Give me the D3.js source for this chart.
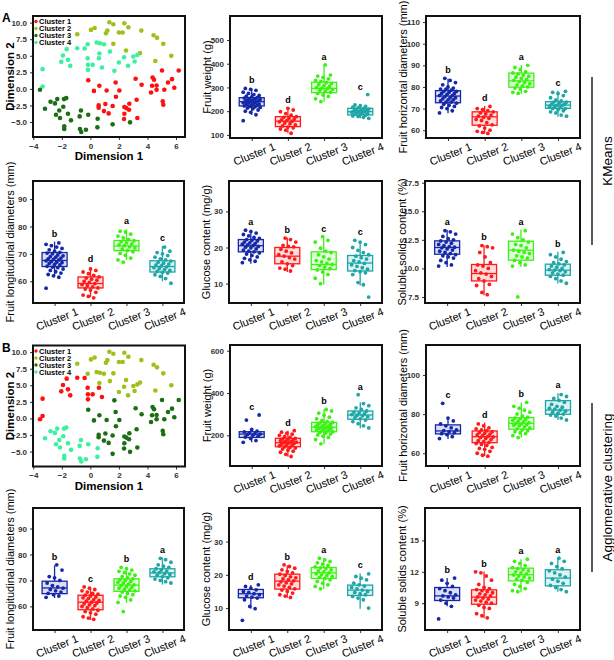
<!DOCTYPE html>
<html>
<head>
<meta charset="utf-8">
<script src="https://cdn.jsdelivr.net/npm/d3@7"></script>
<style>
  body { margin: 0; background: #fff; }
</style>
</head>
<body>
<div id="fig"></div>
<script>
var width = 614,
    height = 660;

var clusterNames = ["Cluster 1", "Cluster 2", "Cluster 3", "Cluster 4"];
var scatterColors = ["#ff1010", "#9cc21a", "#1c6e14", "#3cf0a0"];
var boxColors = ["#1428a8", "#ff1a1a", "#3cf214", "#1fa6a6"];

// 2-D embedding of the fruit samples: [dim1, dim2, kmeans cluster, agglomerative cluster]
var embedding = [
  [-0.15, 1.3, 1, 3], [0.25, -0.3, 1, 3], [0.63, 0.47, 1, 3], [1.14, -0.24, 1, 3], [1.77, 0.97, 1, 3],
  [2.03, -0.24, 1, 3], [1.79, -1.19, 1, 3], [0.58, -2.49, 1, 3], [0.58, -2.85, 1, 3], [1.05, -2.29, 1, 3],
  [1.56, -2.59, 1, 3], [0.95, -3.35, 1, 3], [1.28, -3.7, 1, 3], [2.38, -2.74, 1, 3], [2.38, -3.75, 1, 3],
  [2.73, -2.24, 1, 3], [2.71, -3.15, 1, 3], [2.52, -2.9, 1, 3], [2.36, -4.55, 1, 3], [3.29, -4.4, 1, 3],
  [3.24, -1.64, 1, 3], [3.17, 1.52, 1, 3], [3.59, 0.62, 1, 3], [4.25, -0.54, 1, 3], [4.32, 0.47, 1, 3],
  [4.36, 1.72, 1, 3], [4.46, 1.37, 1, 3], [4.64, 0.52, 1, 3], [4.64, -0.14, 1, 3], [5.02, 2.77, 1, 3],
  [5.18, -0.14, 1, 3], [5.07, -1.89, 1, 3], [5.11, -2.39, 1, 3], [5.44, 0.97, 1, 3], [5.72, 1.47, 1, 3],
  [5.88, 0.17, 1, 3], [6.19, 2.77, 1, 3],
  [-0.92, 8.24, 2, 2], [0.04, 8.9, 2, 2], [0.3, 9.2, 2, 2], [1.33, 10.05, 2, 2], [1.61, 9.75, 2, 2],
  [1.09, 8.4, 2, 2], [1.19, 8.8, 2, 2], [2.0, 8.5, 2, 2], [2.26, 8.5, 2, 2], [2.38, 9.9, 2, 2],
  [2.66, 9.3, 2, 2], [3.57, 8.8, 2, 2], [4.43, 8.1, 2, 2], [4.67, 7.7, 2, 2], [5.11, 6.8, 2, 2],
  [1.61, 6.8, 2, 2], [2.5, 5.8, 2, 2], [3.48, 5.4, 2, 2], [5.67, 5.0, 2, 2], [4.55, 4.2, 2, 2],
  [-0.19, 6.74, 4, 2], [0.44, 6.99, 4, 2], [0.67, 6.89, 4, 2], [0.95, 6.74, 4, 2], [0.63, 5.33, 4, 2],
  [1.37, 5.63, 4, 2], [2.0, 3.98, 4, 2], [2.36, 4.78, 4, 2], [2.64, 3.48, 4, 2], [3.01, 4.88, 4, 2],
  [3.1, 4.13, 4, 2], [3.29, 5.13, 4, 2],
  [-3.35, 2.98, 4, 1], [-3.35, 0.37, 4, 1], [-1.92, 5.03, 4, 1], [-2.04, 4.08, 4, 1], [-1.66, 6.0, 4, 1],
  [-1.57, 4.38, 4, 1], [-1.41, 3.48, 4, 1], [-0.92, 6.14, 4, 1], [-0.4, 6.09, 4, 1], [-0.19, 4.63, 4, 1],
  [-0.17, 3.63, 4, 1], [-0.17, 2.87, 4, 1], [0.16, 3.63, 4, 1], [0.6, 4.63, 4, 1], [0.81, 3.23, 4, 1],
  [1.68, 2.72, 4, 3],
  [-3.53, -0.14, 3, 1],
  [-3.18, -3.0, 3, 4], [-2.79, -1.94, 3, 4], [-2.48, -2.19, 3, 4], [-2.32, -1.54, 3, 4], [-2.41, -3.9, 3, 4],
  [-2.18, -3.25, 3, 4], [-2.13, -4.4, 3, 4], [-1.9, -2.69, 3, 4], [-1.85, -1.54, 3, 4], [-1.69, -1.39, 3, 4],
  [-1.57, -3.75, 3, 4], [-1.83, -5.65, 3, 4], [-1.83, -6.06, 3, 4], [-1.36, -4.75, 3, 4], [-0.75, -4.15, 3, 4],
  [-0.66, -3.25, 3, 4], [-0.73, -6.06, 3, 4], [-0.64, -6.51, 3, 4], [-0.31, -6.16, 3, 4], [-0.15, -3.9, 3, 4],
  [0.51, -4.5, 3, 4], [0.49, -5.8, 3, 4],
  [1.56, -5.35, 3, 3], [2.78, -5.05, 3, 3]
];
var dimTicksX = [-4, -2, 0, 2, 4, 6];
var dimTicksY = [-5, -2.5, 0, 2.5, 5, 7.5, 10];

// ---- KMeans traits ----
var weightK = [
  [160, 185, 195, 200, 205, 210, 213, 216, 218, 220, 222, 224, 226, 228, 230, 232, 234, 236, 238, 240, 241, 243, 245, 247, 249, 251, 253, 255, 257, 260, 263, 266, 270, 275, 280, 288, 292, 296],
  [107, 120, 125, 130, 133, 138, 142, 147, 150, 155, 158, 160, 163, 167, 170, 174, 177, 183, 190, 198, 205, 212],
  [240, 252, 262, 268, 275, 280, 284, 288, 292, 295, 297, 300, 304, 308, 312, 316, 320, 325, 330, 336, 342, 348, 352, 395],
  [170, 174, 178, 180, 183, 186, 188, 190, 192, 194, 196, 198, 199, 201, 203, 205, 207, 209, 211, 214, 217, 220, 223, 226, 270]
];
var weightKBox = [[184, 222, 240, 257, 296], [107, 135, 158, 177, 212], [240, 278, 296, 322, 395], [170, 184, 198, 212, 226]];
var weightKLetters = ["b", "d", "a", "c"];
var weightKTicks = [100, 200, 300, 400, 500];

var hdiamK = [
  [68, 69, 70, 70.5, 71, 71.5, 72, 72.5, 73, 73, 73.5, 74, 74, 74.5, 75, 75, 75.5, 76, 76, 76.5, 77, 77, 77.5, 78, 78, 78.5, 79, 79, 79.5, 80, 81, 82, 83, 84],
  [58.5, 59, 59.5, 60, 61, 62, 62.5, 63.5, 64.5, 65, 65.5, 66, 66.5, 67, 67.5, 68, 68.5, 69, 69.5, 70, 71],
  [77, 77.5, 78, 79, 79.5, 80, 80.5, 81, 81.5, 82, 82.5, 83, 83.5, 84, 84.5, 85, 85.5, 86, 86.5, 87, 88, 89, 90],
  [66.5, 67, 68, 68.5, 69, 69.5, 70, 70, 70.5, 71, 71, 71.5, 71.5, 72, 72, 72.5, 73, 73, 73.5, 74, 75, 76, 77, 77.5, 78]
];
var hdiamKBox = [[67.8, 72.7, 75.8, 78.3, 83.8], [58.4, 62.3, 66.2, 68.5, 71.2], [76.8, 79.9, 82.8, 86.4, 90.1], [66.2, 70.1, 71.6, 73.2, 78.2]];
var hdiamKLetters = ["b", "d", "a", "c"];
var hdiamKTicks = [60, 70, 80, 90, 100, 110];

var ldiamK = [
  [57.5, 61.5, 62, 62.5, 63, 63.5, 64, 64.5, 65, 65.2, 65.5, 66, 66.2, 66.5, 66.8, 67, 67.2, 67.5, 67.8, 68, 68.2, 68.5, 68.8, 69, 69.3, 69.6, 70, 70.3, 70.6, 71, 71.5, 72, 72.5, 73, 73.5, 74],
  [54, 54.5, 55, 56, 56.8, 57.2, 57.6, 58, 58.4, 58.8, 59.2, 59.6, 60, 60.4, 60.8, 61.2, 61.6, 62.2, 62.8, 63.4, 64, 64.5],
  [67, 67.8, 68.5, 69.5, 70.2, 70.8, 71.3, 71.8, 72.2, 72.6, 73, 73.3, 73.7, 74, 74.4, 74.8, 75.2, 75.8, 76.5, 77.2, 78, 78.3],
  [59.3, 61, 61.8, 62.4, 63, 63.3, 63.6, 64, 64.3, 64.6, 65, 65.3, 65.6, 66, 66.3, 66.6, 67, 67.4, 67.8, 68.2, 68.8, 69.4, 70, 70.5, 71, 72.5]
];
var ldiamKBox = [[61.8, 65.4, 67.6, 70.5, 74.5], [54.3, 57.6, 59.2, 61.6, 65.2], [67.9, 71.2, 72.9, 74.9, 79], [60, 63.4, 65.4, 67.5, 72.9]];
var ldiamKLetters = ["b", "d", "a", "c"];
var ldiamKTicks = [60, 70, 80, 90];

var glucoseK = [
  [15.8, 16.2, 16.6, 17, 17.4, 17.8, 18.2, 18.5, 18.8, 19, 19.3, 19.6, 19.9, 20.1, 20.3, 20.5, 20.7, 20.9, 21.1, 21.3, 21.5, 21.8, 22, 22.2, 22.5, 22.8, 23.2, 23.6, 24, 24.4, 24.8],
  [13.5, 14, 14.3, 15, 15.5, 16, 16.8, 17.2, 17.6, 18, 18.5, 19, 19.5, 20.2, 20.3, 20.6, 21.5, 22.2, 22.6],
  [10, 11.5, 12.5, 13.2, 13.8, 14.2, 14.6, 15, 15.3, 15.6, 16, 16.4, 16.8, 17.4, 18, 18.6, 19, 19.8, 21.5, 22, 23],
  [6.3, 9.7, 10.3, 12.5, 13, 13.3, 13.6, 14, 14.4, 14.8, 15.2, 15.6, 16, 16.4, 16.8, 17.2, 17.6, 18, 18.6, 19.2, 20, 20.8, 21.5, 22]
];
var glucoseKBox = [[15.5, 18.8, 20.5, 22.2, 24.9], [13.2, 15.5, 17.6, 20, 22.7], [9.8, 13.9, 15.3, 18.8, 22.9], [9.5, 13.5, 15.7, 17.8, 21.8]];
var glucoseKLetters = ["a", "b", "c", "c"];
var glucoseKTicks = [10, 20, 30];

var solidsK = [
  [10.2, 10.3, 10.5, 10.7, 10.9, 11, 11.1, 11.2, 11.3, 11.4, 11.5, 11.6, 11.7, 11.8, 11.85, 11.9, 12, 12.1, 12.2, 12.3, 12.4, 12.5, 12.6, 12.8, 13, 13.2, 13.3],
  [7.7, 7.9, 8.5, 8.6, 8.9, 9.1, 9.3, 9.5, 9.6, 9.8, 10, 10.2, 10.3, 10.5, 11, 11.4, 11.8, 11.9, 12],
  [7.5, 10.2, 10.3, 10.5, 10.7, 10.9, 11, 11.1, 11.3, 11.4, 11.5, 11.6, 11.8, 12, 12.1, 12.3, 12.5, 12.7, 13, 13.3],
  [8.7, 8.9, 9.1, 9.3, 9.4, 9.5, 9.6, 9.7, 9.8, 9.85, 9.9, 10, 10.1, 10.2, 10.3, 10.4, 10.5, 10.6, 10.8, 11, 11.2, 11.4]
];
var solidsKBox = [[10.13, 11.24, 11.83, 12.41, 13.35], [7.65, 8.9, 9.55, 10.34, 12.03], [10.13, 10.72, 11.59, 12.38, 13.4], [8.67, 9.4, 9.84, 10.37, 11.45]];
var solidsKLetters = ["a", "b", "a", "b"];
var solidsKTicks = [7.5, 10, 12.5, 15, 17.5];

// ---- Agglomerative traits ----
var weightA = [
  [167, 175, 185, 192, 196, 200, 204, 206, 208, 212, 216, 220, 228, 272, 296],
  [100, 110, 120, 125, 130, 135, 140, 143, 146, 150, 153, 156, 159, 162, 164, 166, 168, 170, 172, 175, 178, 180, 183, 186, 190, 195, 200, 205, 210, 215, 222],
  [160, 180, 190, 196, 202, 206, 210, 214, 217, 220, 222, 225, 228, 230, 233, 235, 237, 239, 241, 243, 246, 249, 252, 255, 258, 261, 265, 270, 278, 286, 295, 305, 315, 322],
  [235, 245, 255, 265, 272, 278, 284, 288, 292, 295, 298, 302, 306, 310, 315, 322, 330, 340, 350, 392]
];
var weightABox = [[167, 190, 206, 217, 230], [99, 146, 165, 186, 222], [159, 217, 238, 261, 324], [233, 276, 296, 315, 356]];
var weightALetters = ["c", "d", "b", "a"];
var weightATicks = [200, 400, 600];

var hdiamA = [
  [67.5, 68.5, 69.5, 70, 70.5, 71, 71.5, 72, 73, 74, 75, 76.5, 78, 85.5],
  [58.5, 59, 60, 61, 62, 62.5, 63, 64, 64.5, 65, 65.5, 66, 66.5, 67, 67.5, 68, 68.3, 68.6, 69, 69.4, 69.8, 70.2, 70.6, 71, 71.5, 72, 72.5, 73, 74, 75],
  [68, 69, 70, 70.5, 71, 71.5, 72, 72.5, 73, 73.5, 74, 74.3, 74.6, 75, 75.3, 75.6, 76, 76.4, 76.8, 77.2, 77.6, 78, 78.5, 79, 80, 81, 82, 83, 84, 86],
  [77, 78, 79, 79.5, 80, 80.5, 81, 81.5, 82, 82.5, 83, 83.5, 84, 85, 86, 87, 88, 89, 90]
];
var hdiamABox = [[67.3, 69.9, 71.4, 74.5, 77.9], [58.6, 65.4, 68.5, 71.4, 75.7], [68, 72.3, 75.3, 78.2, 85.9], [77, 79.9, 82.1, 86.9, 90.6]];
var hdiamALetters = ["c", "d", "b", "a"];
var hdiamATicks = [60, 80, 100];

var ldiamA = [
  [63.5, 64, 64.5, 65, 65.5, 66, 66.5, 67, 67.5, 68, 69, 70, 71, 71.5, 74, 76],
  [55, 55.5, 56, 57, 57.5, 58, 58.5, 59, 59.5, 60, 60.3, 60.6, 61, 61.3, 61.6, 62, 62.3, 62.6, 63, 63.3, 63.6, 64, 64.3, 64.7, 65, 65.5, 66, 66.5, 67, 67.5],
  [58, 61.5, 62.5, 63.5, 64, 64.5, 65, 65.5, 66, 66.3, 66.6, 67, 67.3, 67.6, 68, 68.3, 68.6, 69, 69.3, 69.6, 70, 70.3, 70.6, 71, 71.5, 72, 72.5, 73, 73.5, 74, 74.5, 75],
  [69, 69.5, 70, 70.5, 71, 71.5, 72, 72.3, 72.6, 73, 73.3, 73.6, 74, 74.5, 75, 75.5, 76, 77, 78, 78.5]
];
var ldiamABox = [[63.2, 64.9, 67.1, 69.7, 75.8], [54.8, 58.7, 61.6, 64.3, 67.1], [61.3, 65.8, 68.2, 70.6, 74.9], [68.4, 71.4, 72.9, 74.5, 78.8]];
var ldiamALetters = ["b", "c", "b", "a"];
var ldiamATicks = [60, 70, 80, 90];

var glucoseA = [
  [6.3, 9.8, 10.5, 12.5, 13, 13.3, 13.6, 14, 14.3, 14.7, 15, 15.5, 16, 16.5, 17],
  [13.2, 13.6, 14, 14.5, 15, 15.4, 15.8, 16.2, 16.6, 17, 17.3, 17.6, 17.9, 18.2, 18.5, 18.8, 19.1, 19.4, 19.8, 20.2, 20.6, 21, 21.5, 22, 22.5, 23],
  [15.8, 16.5, 17, 17.5, 18, 18.5, 18.9, 19.2, 19.5, 19.8, 20, 20.3, 20.6, 20.9, 21.2, 21.5, 21.8, 22.1, 22.4, 22.8, 23.2, 23.6, 24, 24.5, 25],
  [10, 12.5, 13, 13.5, 14, 14.3, 14.7, 15, 15.4, 15.8, 16.2, 16.6, 17, 17.5, 18.5, 19, 19.5, 20.3]
];
var glucoseABox = [[9.8, 13.1, 14.3, 15.6, 16.9], [13.1, 15.7, 18.1, 20.2, 22.9], [15.7, 18.9, 20.6, 22.2, 25], [9.8, 13.8, 15.4, 16.9, 20.4]];
var glucoseALetters = ["d", "b", "a", "c"];
var glucoseATicks = [10, 20, 30];

var solidsA = [
  [7.5, 8.7, 9, 9.3, 9.5, 9.6, 9.7, 9.8, 10, 10.2, 10.4, 10.6, 10.9, 11.2, 11.4],
  [7.6, 7.8, 8, 8.5, 8.6, 8.8, 9, 9.1, 9.2, 9.3, 9.4, 9.5, 9.6, 9.7, 9.8, 9.9, 10, 10.1, 10.2, 10.3, 10.4, 10.5, 10.8, 11.2, 11.6, 11.9, 12],
  [10.1, 10.2, 10.4, 10.6, 10.8, 11, 11.2, 11.3, 11.4, 11.5, 11.6, 11.7, 11.8, 11.9, 12, 12.1, 12.2, 12.3, 12.4, 12.6, 12.8, 13, 13.2],
  [10.1, 10.3, 10.5, 10.7, 10.9, 11.1, 11.3, 11.5, 11.7, 11.9, 12.1, 12.3, 12.5, 12.8, 13, 13.3]
];
var solidsABox = [[8.7, 9.26, 9.7, 10.5, 11.4], [7.56, 8.9, 9.58, 10.28, 12.03], [10.05, 11.14, 11.72, 12.35, 13.2], [10.1, 10.66, 11.4, 12.2, 13.3]];
var solidsALetters = ["b", "b", "a", "a"];
var solidsATicks = [9, 12, 15];

// panel layout
var panels = [
  {vals: weightK, box: weightKBox, letters: weightKLetters, ticks: weightKTicks, fmt: "d", domain: [87, 601], title: "Fruit weight (g)", x: 230, y: 16, w: 152, h: 122},
  {vals: hdiamK, box: hdiamKBox, letters: hdiamKLetters, ticks: hdiamKTicks, fmt: "d", domain: [56.4, 112.8], title: "Fruit horizontal diameters (mm)", x: 426, y: 16, w: 154, h: 122},
  {vals: ldiamK, box: ldiamKBox, letters: ldiamKLetters, ticks: ldiamKTicks, fmt: "d", domain: [52.1, 96.6], title: "Fruit longitudinal diameters (mm)", x: 33, y: 181, w: 151, h: 122},
  {vals: glucoseK, box: glucoseKBox, letters: glucoseKLetters, ticks: glucoseKTicks, fmt: "d", domain: [4.65, 38.4], title: "Glucose content (mg/g)", x: 229, y: 181, w: 153, h: 122},
  {vals: solidsK, box: solidsKBox, letters: solidsKLetters, ticks: solidsKTicks, fmt: ".1f", domain: [6.97, 17.65], title: "Soluble solids content (%)", x: 425, y: 181, w: 155, h: 122},
  {vals: weightA, box: weightABox, letters: weightALetters, ticks: weightATicks, fmt: "d", domain: [55, 627], title: "Fruit weight (g)", x: 230, y: 345, w: 152, h: 121},
  {vals: hdiamA, box: hdiamABox, letters: hdiamALetters, ticks: hdiamATicks, fmt: "d", domain: [53.5, 115.3], title: "Fruit horizontal diameters (mm)", x: 426, y: 345, w: 154, h: 121},
  {vals: ldiamA, box: ldiamABox, letters: ldiamALetters, ticks: ldiamATicks, fmt: "d", domain: [50.9, 97.9], title: "Fruit longitudinal diameters (mm)", x: 33, y: 508, w: 151, h: 122},
  {vals: glucoseA, box: glucoseABox, letters: glucoseALetters, ticks: glucoseATicks, fmt: "d", domain: [3.4, 40.1], title: "Glucose content (mg/g)", x: 229, y: 508, w: 153, h: 122},
  {vals: solidsA, box: solidsABox, letters: solidsALetters, ticks: solidsATicks, fmt: "d", domain: [6.44, 18.1], title: "Soluble solids content (%)", x: 425, y: 508, w: 155, h: 122}
];

var svg = d3.select("#fig")
  .append("svg")
  .attr("width", width)
  .attr("height", height)
  .style("font-family", "'Liberation Sans', Arial, sans-serif")
  .style("background", "#fff");

// tidy a d3 axis to look like the ggplot one
function styleAxis(sel) {
  sel.select(".domain").remove();
  sel.selectAll(".tick line").attr("stroke", "#333").attr("stroke-width", 1);
  sel.selectAll(".tick text")
    .attr("fill", "#333")
    .style("font-size", "8px")
    .style("font-weight", "bold")
    .style("font-family", "'Liberation Sans', Arial, sans-serif");
}

// deterministic horizontal spread of the points
function jitter(i, k) {
  return (((i * 29 + k * 11) % 17) / 16 - 0.5) * 17;
}

function drawScatter(frame, col, tag) {
  var x = d3.scaleLinear().domain([-4.02, 6.63]).range([frame.x, frame.x + frame.w]);
  var y = d3.scaleLinear().domain([-7.26, 11.0]).range([frame.y + frame.h, frame.y]);
  var g = svg.append("g");

  g.append("g")
    .attr("transform", "translate(" + frame.x + ",0)")
    .call(d3.axisLeft(y).tickValues(dimTicksY).tickFormat(d3.format(".1f")).tickSize(3).tickSizeOuter(0))
    .call(styleAxis);
  g.append("g")
    .attr("transform", "translate(0," + (frame.y + frame.h) + ")")
    .call(d3.axisBottom(x).tickValues(dimTicksX).tickFormat(d3.format("d")).tickSize(3).tickSizeOuter(0))
    .call(styleAxis);

  g.selectAll("circle.pt")
    .data(embedding)
    .enter()
    .append("circle")
    .attr("class", "pt")
    .attr("cx", d => x(d[0]))
    .attr("cy", d => y(d[1]))
    .attr("r", 2.3)
    .style("fill", d => scatterColors[d[col] - 1]);

  // legend in the corner
  var leg = g.selectAll("g.leg")
    .data(clusterNames)
    .enter()
    .append("g")
    .attr("transform", (d, i) => "translate(" + (frame.x + 3) + "," + (frame.y + 5.5 + i * 7) + ")");
  leg.append("circle").attr("r", 1.7).style("fill", (d, i) => scatterColors[i]);
  leg.append("text")
    .attr("x", 3)
    .attr("dy", "0.35em")
    .style("font-size", "7.5px")
    .style("font-weight", "bold")
    .text(d => d);

  g.append("rect")
    .attr("x", frame.x).attr("y", frame.y)
    .attr("width", frame.w).attr("height", frame.h)
    .style("fill", "none").style("stroke", "#111").style("stroke-width", 2);

  g.append("text")
    .attr("x", frame.x + frame.w / 2)
    .attr("y", frame.y + frame.h + 23)
    .attr("text-anchor", "middle")
    .style("font-size", "11.5px")
    .style("font-weight", "bold")
    .text("Dimension 1");
  g.append("text")
    .attr("transform", "translate(14," + (frame.y + frame.h / 2) + ") rotate(-90)")
    .attr("text-anchor", "middle")
    .style("font-size", "11.5px")
    .style("font-weight", "bold")
    .text("Dimension 2");

  g.append("text")
    .attr("x", 2).attr("y", frame.y + 6)
    .style("font-size", "12px")
    .style("font-weight", "bold")
    .text(tag);
}

function drawBoxPanel(p) {
  var g = svg.append("g");
  var x = d3.scalePoint().domain(clusterNames).range([p.x, p.x + p.w]).padding(0.6);
  var y = d3.scaleLinear().domain(p.domain).range([p.y + p.h, p.y]);
  var bw = 25;

  g.append("g")
    .attr("transform", "translate(" + p.x + ",0)")
    .call(d3.axisLeft(y).tickValues(p.ticks).tickFormat(d3.format(p.fmt)).tickSize(3).tickSizeOuter(0))
    .call(styleAxis);

  var xa = g.append("g")
    .attr("transform", "translate(0," + (p.y + p.h) + ")")
    .call(d3.axisBottom(x).tickSize(3).tickSizeOuter(0))
    .call(styleAxis);
  xa.selectAll(".tick text")
    .attr("y", 0)
    .attr("dy", "0.35em")
    .attr("text-anchor", "middle")
    .attr("transform", "translate(2,16) rotate(-22)")
    .attr("fill", "#000")
    .style("font-size", "11px")
    .style("font-weight", "normal");

  var groups = g.selectAll("g.cl")
    .data(clusterNames)
    .enter()
    .append("g")
    .attr("class", "cl");

  // whiskers
  groups.append("line")
    .attr("x1", d => x(d)).attr("x2", d => x(d))
    .attr("y1", (d, k) => y(p.box[k][4])).attr("y2", (d, k) => y(p.box[k][3]))
    .style("stroke", (d, k) => boxColors[k]).style("stroke-width", 1.3);
  groups.append("line")
    .attr("x1", d => x(d)).attr("x2", d => x(d))
    .attr("y1", (d, k) => y(p.box[k][1])).attr("y2", (d, k) => y(p.box[k][0]))
    .style("stroke", (d, k) => boxColors[k]).style("stroke-width", 1.3);

  // boxes and medians
  groups.append("rect")
    .attr("x", d => x(d) - bw / 2)
    .attr("width", bw)
    .attr("y", (d, k) => y(p.box[k][3]))
    .attr("height", (d, k) => y(p.box[k][1]) - y(p.box[k][3]))
    .style("fill", (d, k) => boxColors[k])
    .style("fill-opacity", 0.15)
    .style("stroke", (d, k) => boxColors[k])
    .style("stroke-width", 1.3);
  groups.append("line")
    .attr("x1", d => x(d) - bw / 2).attr("x2", d => x(d) + bw / 2)
    .attr("y1", (d, k) => y(p.box[k][2])).attr("y2", (d, k) => y(p.box[k][2]))
    .style("stroke", (d, k) => boxColors[k]).style("stroke-width", 1.3);

  // jittered samples
  groups.each(function(d, k) {
    d3.select(this).selectAll("circle")
      .data(p.vals[k])
      .enter()
      .append("circle")
      .attr("cx", (v, i) => x(d) + jitter(i, k))
      .attr("cy", v => y(v))
      .attr("r", 1.9)
      .style("fill", boxColors[k]);
  });

  // significance letters
  groups.append("text")
    .attr("x", d => x(d))
    .attr("y", (d, k) => y(Math.max(p.box[k][4], d3.max(p.vals[k]))) - 5)
    .attr("text-anchor", "middle")
    .style("font-size", "9px")
    .style("font-weight", "bold")
    .text((d, k) => p.letters[k]);

  g.append("rect")
    .attr("x", p.x).attr("y", p.y)
    .attr("width", p.w).attr("height", p.h)
    .style("fill", "none").style("stroke", "#111").style("stroke-width", 2);

  g.append("text")
    .attr("transform", "translate(" + (p.x - 19) + "," + (p.y + p.h / 2) + ") rotate(-90)")
    .attr("text-anchor", "middle")
    .style("font-size", "11px")
    .text(p.title);
}

drawScatter({x: 33, y: 16, w: 152, h: 121}, 2, "A");
drawScatter({x: 33, y: 345.5, w: 152, h: 121}, 3, "B");
panels.forEach(drawBoxPanel);

// method labels on the right
var methods = [
  {name: "KMeans", y1: 77, y2: 245},
  {name: "Agglomerative clustering", y1: 403, y2: 572}
];
methods.forEach(function(m) {
  svg.append("line")
    .attr("x1", 592).attr("x2", 592)
    .attr("y1", m.y1).attr("y2", m.y2)
    .style("stroke", "#000").style("stroke-width", 1.3);
  svg.append("text")
    .attr("transform", "translate(612," + ((m.y1 + m.y2) / 2) + ") rotate(-90)")
    .attr("text-anchor", "middle")
    .style("font-size", "13.5px")
    .text(m.name);
});
</script>
</body>
</html>
